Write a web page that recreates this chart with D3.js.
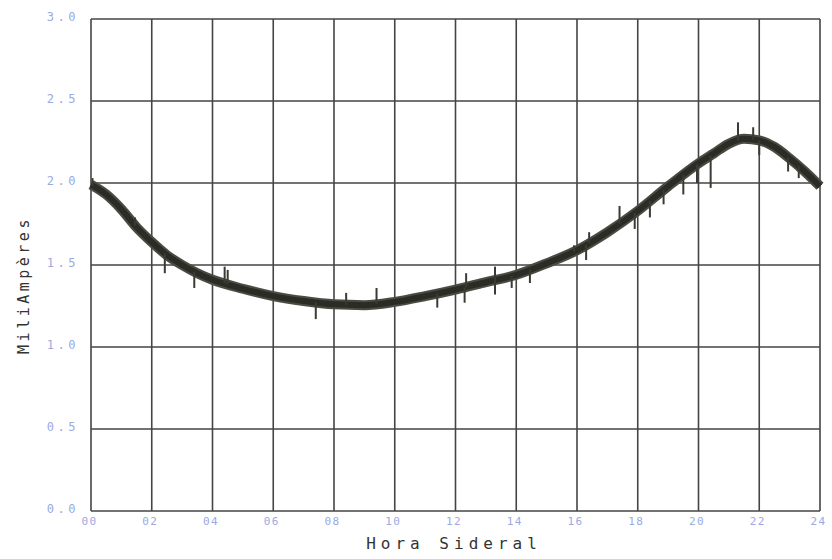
<!DOCTYPE html>
<html><head><meta charset="utf-8">
<script src="https://cdn.jsdelivr.net/npm/d3@7"></script>
<style>body{margin:0;background:#fff}svg{display:block}</style>
</head><body>
<svg id="c" width="832" height="559"></svg>
<script>
// Smooth curve: sidereal hour -> milliamperes
const hours  = [0, 0.5, 1, 1.5, 2, 2.5, 3, 3.5, 4, 5, 6, 7, 8, 9, 10, 11, 12, 13, 14, 15, 16, 17, 18, 19, 20, 20.5, 21, 21.5, 22, 22.5, 23, 23.5, 24];
const values = [1.99, 1.93, 1.84, 1.73, 1.64, 1.56, 1.50, 1.45, 1.41, 1.355, 1.31, 1.28, 1.26, 1.255, 1.275, 1.31, 1.35, 1.395, 1.44, 1.51, 1.59, 1.70, 1.83, 1.98, 2.12, 2.18, 2.24, 2.27, 2.26, 2.22, 2.15, 2.07, 1.98];
// Noise spikes: [hour, spike tip value]
const spikeHours  = [0.05, 1.45, 2.43, 3.4, 4.4, 4.5, 7.4, 8.4, 9.4, 11.4, 12.3, 12.35, 13.3, 13.3, 13.85, 14.45, 15.9, 16.3, 16.4, 17.4, 17.9, 18.4, 18.85, 19.5, 19.95, 20.4, 21.3, 21.8, 22.0, 22.95, 23.3];
const spikeValues = [2.03, 1.79, 1.45, 1.36, 1.49, 1.47, 1.17, 1.33, 1.36, 1.24, 1.27, 1.45, 1.49, 1.32, 1.36, 1.39, 1.62, 1.53, 1.70, 1.86, 1.72, 1.79, 1.87, 1.93, 2.0, 1.97, 2.37, 2.34, 2.17, 2.07, 2.03];
const xTicks = [0, 2, 4, 6, 8, 10, 12, 14, 16, 18, 20, 22, 24];
const xTickLabels = ["00","02","04","06","08","10","12","14","16","18","20","22","24"];
const yTicks = [0, 0.5, 1.0, 1.5, 2.0, 2.5, 3.0];
const xTitle = "Hora Sideral";
const yTitle = "MiliAmpères";

const svg = d3.select("#c");
const L = 91, R = 820, T = 19, B = 511;
const x = d3.scaleLinear().domain([0, 24]).range([L, R]);
const y = d3.scaleLinear().domain([0, 3]).range([B, T]);

const gridColor = "#444";
const labelColor = "#9aa9e4";

// grid
const g = svg.append("g");
g.selectAll("line.v").data(xTicks).join("line")
  .attr("x1", d => x(d)).attr("x2", d => x(d)).attr("y1", T).attr("y2", B)
  .attr("stroke", gridColor).attr("stroke-width", 1.6);
g.selectAll("line.h").data(yTicks).join("line")
  .attr("y1", d => y(d)).attr("y2", d => y(d)).attr("x1", L).attr("x2", R)
  .attr("stroke", gridColor).attr("stroke-width", 1.6);

// axes labels
const xAxis = d3.axisBottom(x).tickValues(xTicks).tickSize(0).tickPadding(0)
  .tickFormat((d, i) => xTickLabels[i]);
const xa = svg.append("g").attr("transform", `translate(0,${B + 14})`).call(xAxis);
xa.select(".domain").remove();
xa.selectAll("text").attr("fill", labelColor).attr("font-family", "DejaVu Sans Mono")
  .attr("font-size", 11).attr("letter-spacing", 1.5).attr("dx", -2).attr("dy", 0);

const yAxis = d3.axisLeft(y).tickValues(yTicks).tickSize(0).tickPadding(0)
  .tickFormat(d3.format(".1f"));
const ya = svg.append("g").attr("transform", `translate(${L - 12},0)`).call(yAxis);
ya.select(".domain").remove();
ya.selectAll("text").attr("fill", labelColor).attr("font-family", "DejaVu Sans Mono")
  .attr("font-size", 12).attr("letter-spacing", 3.5).attr("dy", "0.1em");

// data line
const pts = hours.map((h, i) => [h, values[i]]);
const curveVal = d3.scaleLinear().domain(hours).range(values);
const line = d3.line().x(d => x(d[0])).y(d => y(d[1])).curve(d3.curveMonotoneX);
svg.append("path").datum(pts).attr("d", line)
  .attr("fill", "none").attr("stroke", "#4a4c42").attr("stroke-width", 10)
  .attr("stroke-linejoin", "round").attr("stroke-linecap", "butt");
svg.append("path").datum(pts).attr("d", line)
  .attr("fill", "none").attr("stroke", "#2a2c25").attr("stroke-width", 6);

svg.append("g").selectAll("line").data(spikeHours.map((h, i) => [h, spikeValues[i]])).join("line")
  .attr("x1", d => x(d[0])).attr("x2", d => x(d[0]))
  .attr("y1", d => y(curveVal(d[0]))).attr("y2", d => y(d[1]))
  .attr("stroke", "#3a3c34").attr("stroke-width", 2);

// titles
svg.append("text").attr("x", 454).attr("y", 549).attr("text-anchor", "middle")
  .attr("font-family", "DejaVu Sans Mono").attr("font-size", 16).attr("letter-spacing", 5)
  .attr("fill", "#333").text(xTitle);
svg.append("text").attr("transform", "translate(29,285) rotate(-90)").attr("text-anchor", "middle")
  .attr("font-family", "DejaVu Sans Mono").attr("font-size", 15).attr("letter-spacing", 3.5)
  .attr("fill", "#333").text(yTitle);
</script>
</body></html>
